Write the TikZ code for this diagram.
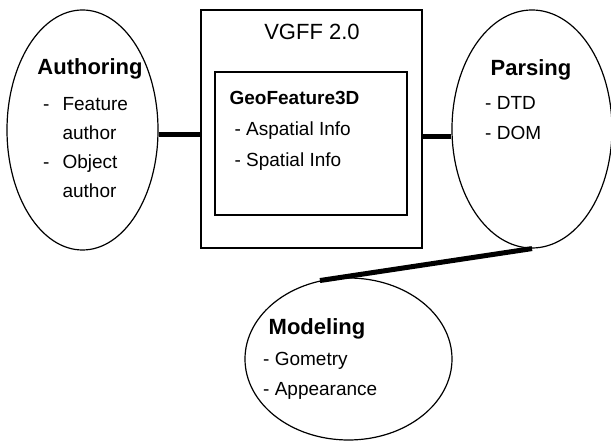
\documentclass[tikz,border=0pt]{standalone}
\usepackage{fontspec}
\setmainfont{Liberation Sans}
\usetikzlibrary{positioning, shapes.geometric}

\begin{document}
\begin{tikzpicture}[x=1pt, y=1pt, every node/.style={inner sep=0pt},
   oval/.style={draw, ellipse, line width=1.2pt},
   frame/.style={draw, rectangle, line width=1.2pt},
   link/.style={line width=5pt},
   head/.style={font=\fontsize{22}{26}\selectfont\bfseries, anchor=base},
   items/.style={font=\fontsize{19}{30}\selectfont, anchor=north west}]
   \useasboundingbox (0,0) rectangle (611,441);

   % middle box with the feature format
   \node[frame, minimum width=221pt, minimum height=238pt] (vgff) at (311.5,312) {};
   \node[frame, minimum width=192pt, minimum height=143pt] (geo) at (311,297.5) {};
   \node[font=\fontsize{22}{26}\selectfont, anchor=base] (vgffT) at ([shift={(0.5,-30)}]vgff.north) {VGFF 2.0};
   \node[items, font=\fontsize{19}{31}\selectfont] (geoT) at ([shift={(15,-11.3)}]geo.north west)
      {\begin{tabular}{@{}l@{}}\textbf{GeoFeature3D}\\ \hspace{5pt}- Aspatial Info\\ \hspace{5pt}- Spatial Info\end{tabular}};

   % the three ellipses
   \node[oval, minimum width=151pt, minimum height=240pt] (auth) at (82.5,311) {};
   \node[oval, minimum width=160pt, minimum height=238pt] (pars) at (532,312) {};
   \node[oval, minimum width=207pt, minimum height=162pt] (model) at (348.5,82) {};

   \node[head] (authT) at ([shift={(7.5,55)}]auth.center) {Authoring};
   \node[items, font=\fontsize{19}{29}\selectfont] (authL) at ([shift={(-39.5,40.3)}]auth.center)
      {\begin{tabular}{@{}l@{\hspace{13pt}}l@{}}- & Feature\\ & author\\ - & Object\\ & author\end{tabular}};

   \node[head] (parsT) at ([shift={(-1,53)}]pars.center) {Parsing};
   \node[items] (parsL) at ([shift={(-47,41)}]pars.center)
      {\begin{tabular}{@{}l@{}}- DTD\\ - DOM\end{tabular}};

   \node[head] (modelT) at ([shift={(-31.5,24)}]model.center) {Modeling};
   \node[items] (modelL) at ([shift={(-85.5,15)}]model.center)
      {\begin{tabular}{@{}l@{}}- Gometry\\ - Appearance\end{tabular}};

   % connectors
   \draw[link] ([yshift=-5pt]auth.east) -- ([yshift=-5pt]auth.east -| vgff.west);
   \draw[link] ([yshift=-8pt]pars.west) -- ([yshift=-8pt]pars.west -| vgff.east);
   \draw[link] (pars.south) -- (model.110);
\end{tikzpicture}
\end{document}
